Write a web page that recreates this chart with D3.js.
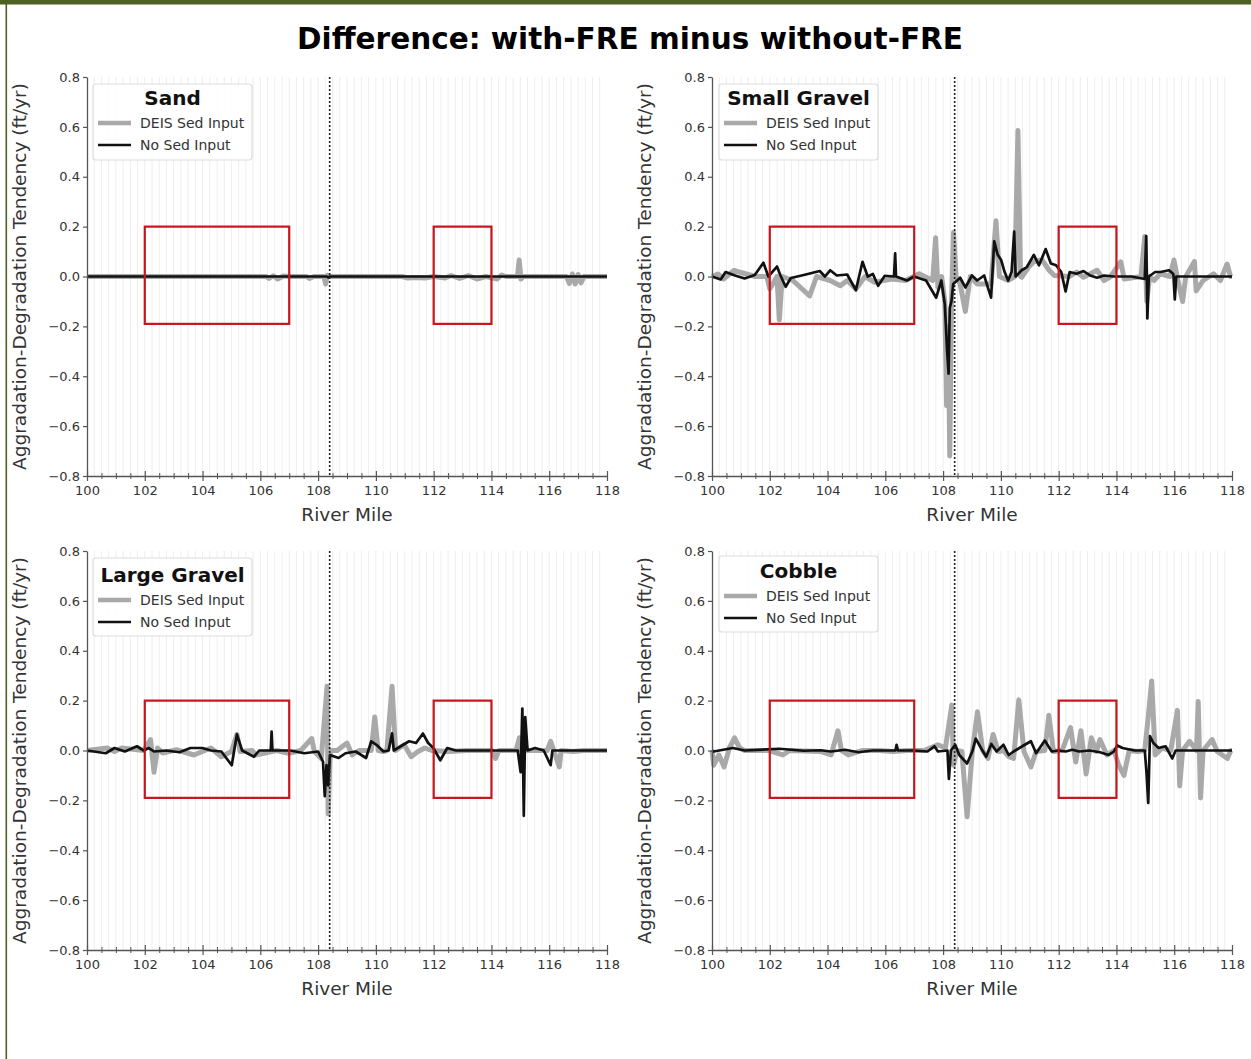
<!DOCTYPE html>
<html>
<head>
<meta charset="utf-8">
<script src="https://cdn.jsdelivr.net/npm/d3@7"></script>
<style>
  html, body { margin: 0; padding: 0; background: #ffffff; }
  svg { display: block; }
  text { font-family: "DejaVu Sans", sans-serif; }
</style>
</head>
<body>
<svg id="chart" width="1251" height="1059"></svg>
<script>
// ---- Data: aggradation-degradation tendency difference (ft/yr) by river mile ----
const panelNames = ["Sand", "Small Gravel", "Large Gravel", "Cobble"];
const seriesNames = ["DEIS Sed Input", "No Sed Input"];
const xTickValues = [100, 102, 104, 106, 108, 110, 112, 114, 116, 118];
const yTickValues = [-0.8, -0.6, -0.4, -0.2, 0.0, 0.2, 0.4, 0.6, 0.8];
const freMile = 108.4;
// highlighted reaches: [start mile, end mile, low, high]
const reachBoxes = [[102, 107, -0.19, 0.2], [112, 114, -0.19, 0.2]];

const sandDeis = [[100,0],[106.2,0],[106.3,-0.008],[106.45,0.003],[106.6,-0.01],[106.8,0.002],[107.0,0],
  [107.6,0],[107.7,-0.008],[107.85,0],[108.2,0],[108.26,-0.03],[108.32,0.005],[108.4,0],[110.9,0],
  [111.1,-0.006],[111.4,-0.004],[111.7,-0.006],[112.0,0],[112.4,-0.006],[112.6,0.004],[112.9,-0.008],
  [113.2,0.004],[113.5,-0.01],[113.8,0],[114.2,-0.01],[114.35,0.006],[114.5,0],[114.9,0],[114.96,0.066],
  [115.02,-0.01],[115.1,0],[116.6,0],[116.7,-0.028],[116.8,0.01],[116.9,-0.03],[117.0,0.008],
  [117.1,-0.026],[117.2,0],[118,0]];
const sandNone = [[100,0],[108.3,0],[108.35,-0.004],[108.4,0],[118,0]];

const smallGravelDeis = [[100,0],[100.2,0.01],[100.4,-0.01],[100.77,0.025],[101.0,0.016],[101.5,0],[101.9,0],
  [102.0,-0.05],[102.25,0],[102.33,-0.174],[102.43,0],[102.8,-0.016],[103.38,-0.078],[103.62,0],
  [104.09,-0.016],[104.44,-0.037],[104.68,-0.016],[104.98,-0.05],[105.3,0],[105.63,-0.023],[106.22,-0.01],
  [106.7,-0.016],[107.17,0.011],[107.64,-0.016],[107.74,0.155],[107.82,-0.044],[107.95,0],[108.06,-0.1],
  [108.12,-0.518],[108.18,-0.2],[108.23,-0.72],[108.29,-0.1],[108.36,0.176],[108.45,0],[108.59,-0.03],
  [108.77,-0.14],[108.94,0],[109.18,-0.03],[109.66,-0.03],[109.83,0.224],[109.95,0],[110.25,-0.016],
  [110.48,0],[110.59,0.585],[110.68,0],[110.72,-0.003],[110.96,0.038],[111.14,0.059],[111.43,0.066],
  [111.67,0.025],[111.85,0.004],[112.38,0],[112.62,0.018],[112.86,-0.003],[113.33,0.025],[113.57,-0.016],
  [113.8,0],[114.15,0.059],[114.27,-0.01],[114.85,0],[114.98,0.16],[115.05,-0.1],[115.15,0],[115.3,-0.016],
  [115.52,0.011],[115.85,0],[115.99,0.066],[116.1,0],[116.29,-0.1],[116.4,0],[116.7,0.06],[116.76,-0.058],
  [117.0,-0.016],[117.36,0.011],[117.6,-0.016],[117.83,0.05],[117.95,0],[118,0]];
const smallGravelNone = [[100,0],[100.3,-0.012],[100.47,0.018],[100.77,0.005],[101.13,-0.008],[101.48,0.006],
  [101.78,0.055],[101.95,0],[102.25,0.04],[102.37,0.004],[102.55,-0.041],[102.73,-0.006],[103.14,0.005],
  [103.73,0.022],[103.91,0],[104.09,0.025],[104.32,0.004],[104.68,0.008],[104.98,-0.055],[105.21,0.059],
  [105.39,0],[105.57,0.01],[105.75,-0.037],[105.98,0.003],[106.3,0],[106.34,0.093],[106.37,0],
  [106.75,-0.016],[106.99,0],[107.41,-0.016],[107.76,-0.085],[107.94,-0.016],[108.06,-0.113],[108.14,-0.3],
  [108.19,-0.39],[108.23,-0.126],[108.29,-0.099],[108.35,-0.03],[108.59,-0.005],[108.77,-0.044],[109.0,0.004],
  [109.18,-0.016],[109.42,0.004],[109.66,-0.085],[109.77,0.141],[109.89,0.087],[110.01,0.066],[110.13,0.018],
  [110.25,-0.016],[110.37,0.018],[110.46,0.18],[110.51,0],[110.72,0.025],[110.9,0.038],[111.14,0.087],
  [111.32,0.045],[111.55,0.11],[111.73,0.052],[111.91,0.045],[112.09,0.018],[112.24,-0.06],[112.38,0.018],
  [112.62,0.011],[112.86,0.022],[113.09,0.004],[113.33,-0.005],[113.57,0.004],[113.92,0],[114.51,0],
  [114.98,-0.01],[115.03,0.162],[115.07,-0.168],[115.12,0],[115.34,0.018],[115.52,0.018],[115.82,0.025],
  [115.97,0.01],[116.02,-0.092],[116.07,0],[118,0]];

const largeGravelDeis = [[100,0],[100.7,0.01],[100.95,-0.004],[101.2,0.01],[101.96,0],[102.2,0.044],
  [102.32,-0.087],[102.44,0.01],[102.62,-0.01],[103.1,0.003],[103.7,-0.018],[104.29,0.01],[104.65,-0.025],
  [105.0,-0.004],[105.19,0.065],[105.3,-0.004],[105.72,0],[105.84,-0.018],[106.56,0],[106.98,-0.011],
  [107.4,0],[107.78,0.048],[107.87,-0.004],[108.11,-0.032],[108.31,0.258],[108.35,-0.255],[108.42,0],
  [108.66,0],[109.0,0.03],[109.18,-0.018],[109.42,0],[109.84,0],[109.96,0.134],[110.08,0],[110.26,-0.004],
  [110.38,0],[110.56,0.258],[110.68,0],[110.98,0.023],[111.22,-0.025],[111.46,-0.004],[111.69,0.01],
  [111.93,0],[112.53,-0.004],[113.12,0],[114.02,0],[114.14,-0.032],[114.26,0],[114.85,0],[114.97,0.051],
  [115.03,0],[115.93,0],[116.05,0.037],[116.35,-0.066],[116.41,0],[116.82,-0.004],[117.18,0],[118,0]];
const largeGravelNone = [[100,0],[100.65,-0.011],[100.95,0.01],[101.31,-0.004],[101.73,0.017],[101.96,0],
  [102.14,0.01],[102.32,-0.004],[102.74,0],[103.2,-0.007],[103.58,0.01],[103.99,0.01],[104.29,0],
  [104.65,-0.004],[105.01,-0.059],[105.19,0.065],[105.37,0],[105.78,-0.025],[105.96,0],[106.36,0],
  [106.39,0.076],[106.42,0],[107.04,0],[107.52,-0.011],[108.0,-0.004],[108.17,-0.045],[108.23,-0.183],
  [108.29,-0.059],[108.35,-0.14],[108.41,-0.018],[108.71,-0.03],[108.95,-0.011],[109.3,-0.004],[109.66,-0.03],
  [109.84,0.037],[110.02,0.023],[110.26,-0.004],[110.44,0],[110.56,0.069],[110.62,0],[110.86,0.017],
  [111.15,0.037],[111.39,0.03],[111.63,0.068],[111.81,0.03],[111.99,0.01],[112.23,-0.039],[112.47,0.01],
  [112.77,0],[114.91,0],[115.01,-0.087],[115.07,0.168],[115.12,-0.262],[115.17,0.134],[115.25,0],
  [115.51,0.01],[115.81,0],[116.05,-0.059],[116.11,0],[118,0]];

const cobbleDeis = [[100,0],[100.06,-0.059],[100.24,-0.018],[100.42,-0.066],[100.6,0.01],[100.78,0.051],
  [100.96,0.01],[101.13,0],[101.97,0],[102.45,-0.018],[102.69,0],[103.76,-0.004],[104.12,-0.018],
  [104.36,0.079],[104.48,0],[104.72,-0.018],[105.19,0],[105.79,0],[106.27,-0.004],[106.75,0],
  [107.34,0],[107.82,0.023],[108.08,0.01],[108.3,0.182],[108.36,-0.059],[108.48,0],[108.65,-0.004],
  [108.83,-0.266],[109.01,-0.004],[109.19,0.155],[109.37,0],[109.55,-0.032],[109.73,0.064],[109.91,-0.004],
  [110.09,0],[110.27,-0.025],[110.44,-0.032],[110.62,0.203],[110.8,-0.004],[111.04,-0.066],[111.22,-0.004],
  [111.52,0],[111.66,0.141],[111.82,-0.004],[112.12,0],[112.41,0.092],[112.59,-0.046],[112.77,0.079],
  [112.95,-0.094],[113.13,0.051],[113.31,-0.004],[113.43,0.044],[113.67,-0.018],[113.91,0],[114.08,-0.059],
  [114.26,-0.1],[114.44,0],[114.74,-0.004],[114.98,0],[115.1,0.134],[115.22,0.279],[115.34,-0.018],
  [115.58,0.01],[115.88,0],[116.11,0.161],[116.19,-0.142],[116.29,0],[116.53,0.037],[116.77,0],
  [116.83,0.196],[116.91,-0.19],[117.0,0],[117.31,0.044],[117.49,-0.004],[117.84,-0.032],[117.96,0],[118,0]];
const cobbleNone = [[100,0],[100.06,-0.004],[100.72,0.01],[101.13,0],[102.33,0.007],[103.17,-0.001],
  [103.76,0.001],[104.12,-0.004],[104.6,0.003],[105.07,-0.007],[105.55,0],[106.35,0],[106.39,0.023],
  [106.44,0],[106.99,0],[107.46,-0.004],[107.7,0.017],[107.82,-0.004],[108.15,0],[108.2,-0.114],
  [108.27,0],[108.42,0.023],[108.56,-0.018],[108.83,-0.052],[109.01,-0.004],[109.13,0.048],[109.31,0.01],
  [109.49,-0.025],[109.67,0.026],[109.85,-0.004],[110.09,0.023],[110.27,-0.018],[110.44,-0.004],
  [110.74,0.017],[111.04,0.037],[111.22,-0.011],[111.52,0.04],[111.76,-0.004],[112.0,0],[112.24,-0.004],
  [112.47,0.003],[112.71,-0.004],[113.07,0],[113.43,-0.007],[113.73,-0.018],[113.91,-0.004],[114.03,0.02],
  [114.21,0.01],[114.63,0],[114.98,0],[115.04,-0.087],[115.1,-0.21],[115.16,0.058],[115.28,0.03],
  [115.46,0.01],[115.7,0.017],[115.93,-0.032],[116.05,0],[118,0]];

const panelSeries = [
  [sandDeis, sandNone],
  [smallGravelDeis, smallGravelNone],
  [largeGravelDeis, largeGravelNone],
  [cobbleDeis, cobbleNone]
];

// ---- Layout ----
const svg = d3.select("#chart");
const W = 1251, H = 1059;
const plotW = 520, plotH = 399;
const origins = [[87, 77], [712, 77], [87, 551], [712, 551]];
const legendBoxes = [
  {x: 93, y: 84, w: 159, h: 76, titleY: 105},
  {x: 719, y: 84, w: 159, h: 76, titleY: 105},
  {x: 93, y: 558, w: 159, h: 78, titleY: 582},
  {x: 719, y: 556, w: 159, h: 76, titleY: 578}
];
const seriesStyle = [
  {color: "#a9a9a9", width: 5},
  {color: "#111111", width: 2.7}
];
const axisColor = "#555555";

// frame accents
svg.append("rect").attr("x", 0).attr("y", 0).attr("width", W).attr("height", 4.5).attr("fill", "#4e6121");
svg.append("rect").attr("x", 5.5).attr("y", 0).attr("width", 1.6).attr("height", H).attr("fill", "#4e6121");

// main title
svg.append("text")
  .attr("x", 630).attr("y", 49)
  .attr("text-anchor", "middle")
  .attr("font-size", 31).attr("font-weight", "bold")
  .attr("textLength", 666).attr("lengthAdjust", "spacingAndGlyphs")
  .attr("fill", "#000")
  .text("Difference: with-FRE minus without-FRE");

panelNames.forEach((name, i) => {
  const [x0, y0] = origins[i];
  const x = d3.scaleLinear().domain([100, 118]).range([x0, x0 + plotW]);
  const y = d3.scaleLinear().domain([-0.8, 0.8]).range([y0 + plotH, y0]);
  const g = svg.append("g");

  // faint vertical grid
  g.append("g").selectAll("line")
    .data(d3.range(100.25, 118, 0.25))
    .join("line")
    .attr("x1", d => x(d)).attr("x2", d => x(d))
    .attr("y1", y0).attr("y2", y0 + plotH)
    .attr("stroke", "#eeeeee").attr("stroke-width", 1);

  // series lines
  const line = d3.line().x(d => x(d[0])).y(d => y(d[1]));
  panelSeries[i].forEach((data, s) => {
    g.append("path")
      .datum(data)
      .attr("d", line)
      .attr("fill", "none")
      .attr("stroke", seriesStyle[s].color)
      .attr("stroke-width", seriesStyle[s].width)
      .attr("stroke-linejoin", "round");
  });

  // FRE location
  g.append("line")
    .attr("x1", x(freMile)).attr("x2", x(freMile))
    .attr("y1", y(0.8)).attr("y2", y(-0.8))
    .attr("stroke", "#222").attr("stroke-width", 1.6)
    .attr("stroke-dasharray", "2,2");

  // highlighted reaches
  g.append("g").selectAll("rect")
    .data(reachBoxes)
    .join("rect")
    .attr("x", d => x(d[0])).attr("y", d => y(d[3]))
    .attr("width", d => x(d[1]) - x(d[0]))
    .attr("height", d => y(d[2]) - y(d[3]))
    .attr("fill", "none").attr("stroke", "#c8141c").attr("stroke-width", 2.2);

  // x axis: major and minor ticks crossing the spine
  const xAxisG = g.append("g").attr("transform", `translate(0,${y0 + plotH})`);
  const minor = xAxisG.append("g")
    .call(d3.axisBottom(x).tickValues(d3.range(100.5, 118, 0.5).filter(v => v % 2 !== 0))
      .tickSize(3).tickSizeOuter(0).tickFormat(""));
  minor.select(".domain").remove();
  minor.selectAll(".tick line").attr("y1", -3).attr("y2", 3).attr("stroke", axisColor);
  const major = xAxisG.append("g")
    .call(d3.axisBottom(x).tickValues(xTickValues).tickSize(5).tickSizeOuter(0).tickFormat(d3.format("d")));
  major.select(".domain").attr("stroke", axisColor).attr("stroke-width", 1.3);
  major.selectAll(".tick line").attr("y1", -5).attr("y2", 5).attr("stroke", axisColor).attr("stroke-width", 1.2);
  major.selectAll(".tick text")
    .attr("y", 10).attr("font-size", 13).attr("fill", "#333")
    .attr("font-family", "DejaVu Sans, sans-serif");

  // y axis
  const yAxisG = g.append("g").attr("transform", `translate(${x0},0)`)
    .call(d3.axisLeft(y).tickValues(yTickValues).tickSize(4).tickSizeOuter(0)
      .tickFormat(d => d3.format(".1f")(d).replace("-", "\u2212")));
  yAxisG.select(".domain").attr("stroke", axisColor).attr("stroke-width", 1.3);
  yAxisG.selectAll(".tick line").attr("stroke", axisColor).attr("stroke-width", 1.2);
  yAxisG.selectAll(".tick text")
    .attr("x", -7).attr("font-size", 13).attr("fill", "#333")
    .attr("font-family", "DejaVu Sans, sans-serif");

  // axis titles
  svg.append("text")
    .attr("x", x0 + plotW / 2).attr("y", y0 + plotH + 45)
    .attr("text-anchor", "middle").attr("font-size", 18.5).attr("fill", "#333")
    .text("River Mile");
  svg.append("text")
    .attr("transform", `translate(${x0 - 61},${y0 + plotH / 2}) rotate(-90)`)
    .attr("text-anchor", "middle").attr("font-size", 18.5).attr("fill", "#333")
    .text("Aggradation-Degradation Tendency (ft/yr)");

  // legend
  const lb = legendBoxes[i];
  const lg = svg.append("g");
  lg.append("rect")
    .attr("x", lb.x).attr("y", lb.y).attr("width", lb.w).attr("height", lb.h)
    .attr("rx", 3).attr("fill", "#ffffff").attr("fill-opacity", 0.85)
    .attr("stroke", "#dddddd").attr("stroke-width", 1.2);
  lg.append("text")
    .attr("x", lb.x + lb.w / 2).attr("y", lb.titleY)
    .attr("text-anchor", "middle").attr("font-size", 20).attr("font-weight", "bold").attr("fill", "#111")
    .text(name);
  seriesNames.forEach((sn, s) => {
    const ly = lb.titleY + 18 + s * 22;
    lg.append("line")
      .attr("x1", lb.x + 5).attr("x2", lb.x + 38)
      .attr("y1", ly).attr("y2", ly)
      .attr("stroke", seriesStyle[s].color)
      .attr("stroke-width", s === 0 ? 4.5 : 2.4);
    lg.append("text")
      .attr("x", lb.x + 47).attr("y", ly + 5)
      .attr("font-size", 14).attr("fill", "#333")
      .text(sn);
  });
});
</script>
</body>
</html>
